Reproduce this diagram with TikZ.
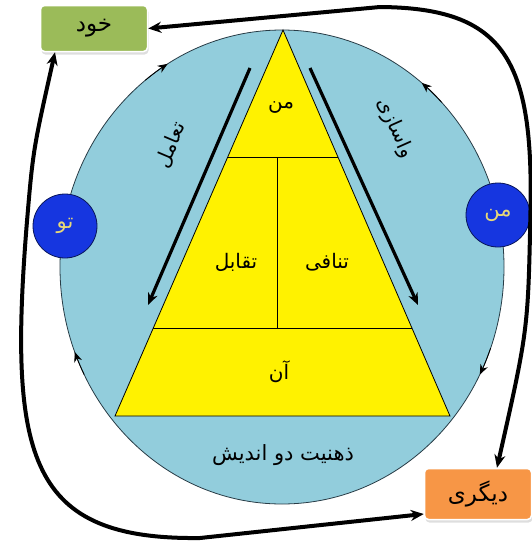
\documentclass[tikz,border=0pt]{standalone}
\usepackage{fontspec}
\usetikzlibrary{shapes.geometric, arrows.meta, positioning, calc, shadows}
\newfontfamily\farsi[Script=Arabic]{DejaVu Sans}
\TeXXeTstate=1
\newcommand{\fatext}[1]{\beginR #1\endR}
\definecolor{mindcolor}{RGB}{146,205,220}
\definecolor{selfcolor}{RGB}{155,187,89}
\definecolor{othercolor}{RGB}{247,150,70}
\definecolor{rolecolor}{RGB}{22,54,224}
\definecolor{roletext}{RGB}{232,216,120}
\definecolor{rimcolor}{RGB}{40,60,70}

\begin{document}
\begin{tikzpicture}[
    x=1pt, y=-1pt,
    fa/.style={font=\farsi\fontsize{20}{24}\selectfont, inner sep=1pt},
    box/.style={fa, font=\farsi\fontsize{23}{27}\selectfont, rectangle, rounded corners=4pt, draw=white, line width=1.5pt, minimum width=107pt, drop shadow={shadow xshift=1pt, shadow yshift=-3pt, fill=black!25}},
    role/.style={fa, font=\farsi\fontsize{21}{25}\selectfont, circle, draw=rolecolor!40!black, line width=0.8pt, fill=rolecolor, minimum size=64pt, inner sep=0pt, text=roletext},
    bigarrow/.style={-{Stealth[length=13pt, width=11pt]}, line width=4pt},
    sidearrow/.style={-{Stealth[length=12pt, width=10pt]}, line width=3.2pt},
    rimarrow/.style={-{Stealth[length=10pt, width=8pt]}, draw=black, line width=0.8pt},
    node distance=0.1cm
]
    \fill[white] (0,0) rectangle (531,544);
    \useasboundingbox (0,0) rectangle (531,544);

    % Mind ellipse
    \node[ellipse, draw=rimcolor, line width=0.8pt, fill=mindcolor, minimum width=444pt, minimum height=474pt, inner sep=0pt] (mind) at (282,267) {};
    \foreach \from/\to in {128/121, 44/51, 207/201, -20/-27}
        \draw[rimarrow] ($(mind.center)+(\from:222pt and 237pt)$) arc[start angle=\from, end angle=\to, x radius=222pt, y radius=237pt];

    % Pyramid
    \coordinate (apex) at (283,30);
    \coordinate (baseL) at (115,416);
    \coordinate (baseR) at (450,416);
    \draw[fill=yellow, line width=0.8pt] (apex) -- (baseL) -- (baseR) -- cycle;
    \draw[line width=0.8pt] ($(apex)!0.329!(baseL)$) -- ($(apex)!0.329!(baseR)$);
    \draw[line width=0.8pt] ($(apex)!0.772!(baseL)$) -- ($(apex)!0.772!(baseR)$);
    \draw[line width=0.8pt] (277,157) -- (277,328);

    \node[fa] (mantop) at (281,108) {\fatext{من}};
    \node[fa] (taqabol) at (236,262) {\fatext{تقابل}};
    \node[fa] (tanafi) at (327,262) {\fatext{تنافی}};
    \node[fa] (aan) at (279,372) {\fatext{آن}};
    \node[fa, font=\farsi\fontsize{21}{25}\selectfont] (mindtext) at (283,455) {\fatext{ذهنیت دو اندیش}};

    % Side arrows
    \coordinate (leftstart) at (250,68);
    \coordinate (leftend) at (148,305);
    \coordinate (rightstart) at (310,68);
    \coordinate (rightend) at (418,305);
    \draw[sidearrow] (leftstart) -- (leftend);
    \draw[sidearrow] (rightstart) -- (rightend);
    \node[fa, rotate=67] (taamol) at (171,145) {\fatext{تعامل}};
    \node[fa, rotate=-66] (vasazi) at (395,128) {\fatext{واسازی}};

    % Self / other boxes
    \node[box, fill=selfcolor, minimum height=46pt] (khod) at (94,28.5) {\fatext{خود}};
    \node[box, fill=othercolor, minimum height=51pt] (digari) at (478,494) {\fatext{دیگری}};

    % Roles
    \node[role] (tu) at (65,226) {\fatext{تو}};
    \node[role] (man) at (498,215) {\fatext{من}};

    % Connectors
    \coordinate (tuside) at ([xshift=-6pt]tu.west);
    \draw[bigarrow] (tuside) .. controls (33,150) .. ([xshift=-39pt]khod.south);
    \draw[bigarrow] (tuside) .. controls (8,460) and (30,540) .. (200,538) -- ([yshift=-20pt]digari.west);
    \draw[bigarrow] (man.east) .. controls (534,60) and (505,8) .. (380,7) -- (khod.east);
    \draw[bigarrow] (man.east) .. controls (528,330) .. ([xshift=19pt]digari.north);

\end{tikzpicture}
\end{document}
